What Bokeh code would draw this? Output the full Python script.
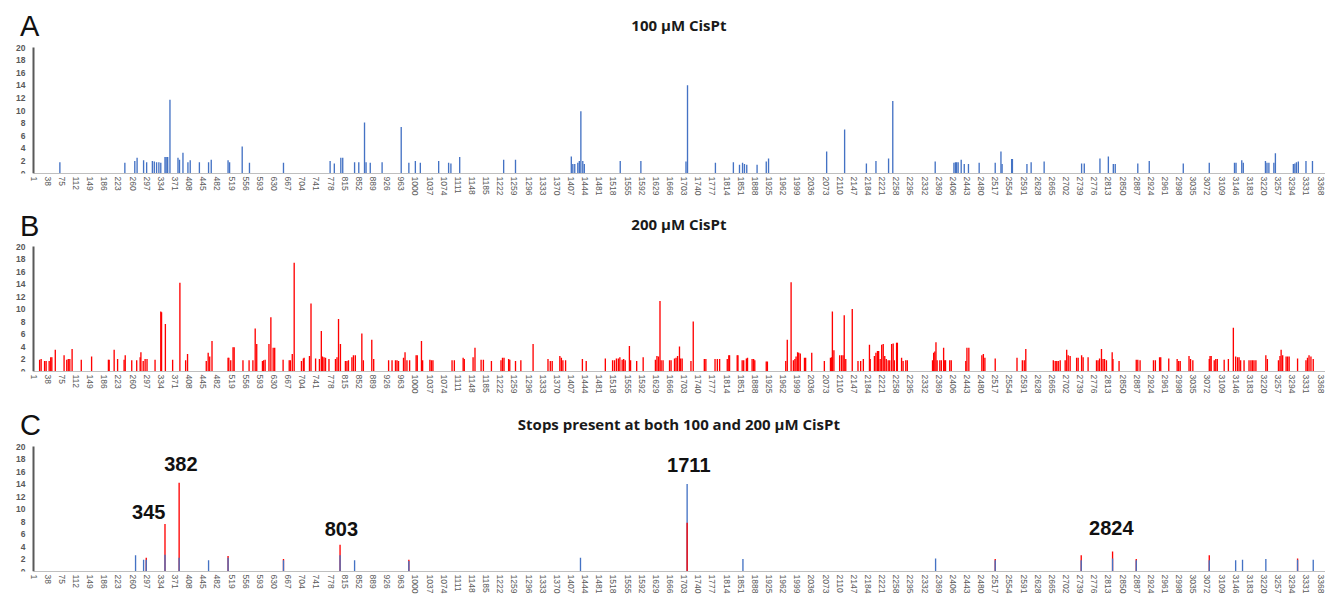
import numpy as np
from bokeh.plotting import figure
from bokeh.layouts import column
from bokeh.models import Range1d, FixedTicker, Label, ColumnDataSource
from bokeh.embed import file_html
from bokeh.resources import INLINE
from bokeh.core.properties import value

# ---------------- data ----------------
x_ticks = list(range(1, 3369, 37))
y_ticks = list(range(0, 21, 2))

a_pos = [70, 240, 266, 272, 289, 297, 312, 317, 323, 329, 334, 345, 348, 352, 358, 379, 383, 392, 405, 411,
         435, 459, 466, 510, 514, 547, 566, 655, 777, 788, 805, 810, 841, 852, 867, 871, 882, 913, 963, 983,
         1000, 1013, 1061, 1087, 1093, 1116, 1231, 1262, 1408, 1412, 1417, 1425, 1429, 1433, 1438, 1442, 1536,
         1590, 1708, 1712, 1785, 1832, 1848, 1856, 1861, 1867, 1894, 1918, 1924, 2076, 2123, 2180, 2205, 2238,
         2249, 2360, 2409, 2413, 2416, 2420, 2428, 2436, 2447, 2475, 2517, 2532, 2535, 2560, 2562, 2600, 2611,
         2645, 2743, 2750, 2791, 2813, 2826, 2831, 2890, 2920, 3009, 3077, 3143, 3147, 3162, 3166, 3224, 3228,
         3233, 3246, 3250, 3297, 3301, 3305, 3310, 3330, 3347]
a_val = [1.8, 1.7, 2.0, 2.5, 2.1, 1.8, 2.0, 1.9, 1.8, 1.8, 1.7, 2.6, 2.6, 2.6, 11.7, 2.5, 2.2, 3.3, 1.8, 2.1,
         1.8, 1.8, 2.2, 2.1, 1.8, 4.3, 1.7, 1.7, 2.0, 1.6, 2.5, 2.5, 1.8, 1.8, 8.1, 1.8, 1.7, 1.8, 7.4, 1.7,
         2.0, 1.7, 2.0, 1.7, 1.6, 2.6, 2.2, 2.2, 2.7, 1.5, 1.5, 1.7, 2.0, 9.9, 2.0, 1.5, 2.0,
         2.0, 1.9, 14.0, 1.7, 1.8, 1.4, 1.7, 1.5, 1.4, 1.4, 1.9, 2.4, 3.5, 7.0, 1.6, 2.0, 2.4,
         11.5, 1.9, 1.7, 1.8, 1.8, 1.8, 2.2, 1.5, 1.5, 1.7, 1.7, 3.5, 1.5, 2.3, 2.3, 1.5, 1.8,
         1.9, 1.6, 1.6, 2.4, 2.7, 1.5, 1.5, 1.6, 2.0, 1.6, 1.7, 1.7, 1.7, 2.1, 1.7, 2.0, 1.7,
         1.7, 1.7, 3.2, 1.5, 1.6, 1.8, 1.9, 2.0, 2.0]

b_pos = [17, 21, 30, 34, 42, 46, 49, 58, 81, 88, 92, 96, 102, 126, 153, 197, 199, 212, 221, 238, 241, 258, 271,
         280, 282, 288, 293, 298, 319, 334, 336, 346, 365, 384, 399, 404, 453, 458, 462, 468, 510, 512, 517, 523,
         526, 549, 565, 575, 581, 585, 600, 603, 607, 617, 622, 628, 632, 654, 670, 673, 678, 683, 702, 707, 709,
         723, 727, 739, 749, 754, 757, 761, 765, 774, 791, 795, 799, 804, 817, 821, 825, 834, 838, 843, 860, 864,
         886, 891, 930, 939, 948, 952, 956, 969, 973, 978, 985, 1002, 1005, 1016, 1019, 1038, 1042, 1046,
         1096, 1102, 1125, 1128, 1151, 1156, 1172, 1178, 1199, 1224, 1228, 1232, 1244, 1247, 1262, 1276, 1308,
         1347, 1353, 1358, 1378, 1382, 1386, 1393, 1437, 1447, 1497, 1516, 1521, 1526, 1531, 1535, 1541, 1545,
         1549, 1560, 1563, 1579, 1596, 1628, 1632, 1636, 1640, 1643, 1648, 1665, 1669, 1678, 1682, 1686, 1691,
         1694, 1698, 1721, 1727, 1756, 1760, 1784, 1790, 1796, 1816, 1820, 1822, 1842, 1844, 1855, 1859, 1866,
         1869, 1881, 1885, 1888, 1918, 1921, 1969, 1973, 1983, 1989, 1993, 1996, 2000, 2003, 2007, 2018, 2021,
         2037, 2070, 2086, 2089, 2091, 2095, 2110, 2115, 2119, 2122, 2126, 2143, 2158, 2165, 2172, 2188, 2190,
         2201, 2205, 2209, 2212, 2216, 2220, 2224, 2228, 2232, 2237, 2241, 2246, 2250, 2253, 2259, 2261, 2272,
         2276, 2283, 2287, 2353, 2356, 2359, 2362, 2365, 2372, 2376, 2382, 2385, 2387, 2398, 2402, 2440, 2443,
         2448, 2482, 2486, 2490, 2517, 2574, 2588, 2593, 2597, 2669, 2674, 2678, 2682, 2687, 2700, 2704, 2708,
         2713, 2730, 2734, 2743, 2747, 2760, 2782, 2786, 2790, 2795, 2799, 2803, 2808, 2823, 2825, 2841, 2886,
         2890, 2896, 2931, 2936, 2947, 2950, 2971, 2993, 2997, 3001, 3024, 3028, 3034, 3077, 3079, 3082, 3090,
         3094, 3098, 3116, 3127, 3140, 3146, 3151, 3155, 3159, 3168, 3181, 3186, 3190, 3194, 3199, 3225, 3229,
         3258, 3262, 3265, 3269, 3278, 3282, 3286, 3308, 3330, 3334, 3338, 3343, 3349]
b_val = [1.9, 2.0, 1.7, 1.7, 1.7, 2.3, 2.3, 3.5, 2.6, 1.9, 2.0, 2.0, 3.6, 1.9, 2.4, 1.9, 1.9, 3.5, 2.0, 1.9, 2.6, 1.8, 1.8,
         2.3, 3.1, 1.7, 2.0, 2.0, 1.9, 9.6, 9.5, 7.6, 1.9, 14.2, 1.8, 2.8, 1.7, 3.0, 2.4, 4.9, 2.2, 2.2, 1.8, 3.9,
         3.9, 1.8, 1.8, 1.8, 6.9, 4.4, 1.7, 1.8, 1.9, 4.4, 8.7, 3.8, 3.8, 1.9, 1.8, 1.8, 2.8, 17.4, 1.7, 2.1, 2.2,
         2.5, 10.9, 2.1, 2.0, 6.5, 2.4, 2.3, 2.2, 2.0, 2.0, 2.3, 8.4, 4.4, 1.7, 1.7, 1.8, 2.3, 2.6, 2.6, 6.1, 1.8,
         5.1, 2.0, 1.8, 1.8, 1.8, 1.8, 1.7, 2.2, 3.1, 1.8, 1.8, 2.6, 2.6, 4.9, 1.8, 1.9, 1.8, 1.8,
         1.8, 1.8, 2.2, 2.0, 2.3, 3.8, 1.9, 1.9, 1.7, 1.8, 2.2, 2.2, 2.0, 1.9, 1.7, 1.8, 4.4,
         2.0, 1.7, 1.7, 2.5, 2.2, 1.8, 1.8, 2.0, 1.7, 2.1, 1.8, 1.8, 2.1, 2.1, 2.3, 1.9, 2.0,
         1.8, 4.1, 1.8, 1.7, 2.3, 1.9, 2.5, 2.4, 11.3, 1.8, 1.8, 1.8, 1.8, 2.1, 2.2, 2.5, 4.0,
         2.1, 2.1, 1.7, 8.0, 2.0, 2.0, 2.0, 2.0, 2.0, 2.0, 2.6, 2.6, 2.6, 2.6, 1.8, 1.8, 2.1,
         2.2, 2.0, 2.0, 1.8, 1.6, 1.6, 1.7, 5.1, 14.3, 1.8, 2.0, 2.4, 3.1, 3.0, 2.9, 2.2, 2.2,
         3.0, 1.7, 2.2, 2.3, 9.6, 3.4, 2.6, 2.6, 2.6, 9.0, 2.0, 10.0, 1.7, 1.7, 2.0, 4.3, 2.0,
         2.5, 3.0, 3.3, 3.3, 2.0, 4.3, 4.4, 2.5, 2.0, 1.8, 1.8, 4.4, 4.5, 1.8, 4.6, 4.6, 2.2,
         1.7, 1.8, 1.8, 1.8, 3.0, 3.2, 4.7, 1.8, 1.8, 1.8, 3.8, 1.8, 1.8, 1.8, 1.8, 1.7, 3.8,
         3.8, 2.6, 2.8, 2.2, 2.1, 2.2, 1.8, 1.8, 3.6, 1.8, 1.7, 1.7, 1.7, 1.8, 1.8, 3.5, 2.6,
         2.5, 2.2, 2.2, 2.6, 2.3, 2.3, 1.8, 1.8, 2.1, 3.6, 2.0, 2.0, 1.8, 3.1, 2.0, 1.7, 1.9,
         1.9, 1.8, 1.8, 1.8, 2.3, 2.3, 2.1, 2.0, 1.7, 1.7, 2.5, 2.0, 1.8, 2.0, 2.5, 2.5, 1.8,
         2.0, 2.0, 1.9, 2.0, 7.0, 2.4, 2.3, 2.3, 1.8, 1.8, 1.8, 1.8, 1.8, 1.8, 1.8, 2.6, 2.0,
         1.8, 2.5, 3.5, 2.6, 2.4, 2.4, 2.4, 2.1, 1.8, 2.2, 2.6, 2.4, 2.0]

c_pos = [268, 289, 296, 345, 382, 459, 510, 655, 803, 841, 983, 1432, 1711, 1857, 2361, 2517, 2742, 2824,
         2886, 3077, 3146, 3164, 3225, 3308, 3349]
c_100 = [2.6, 1.9, 1.9, 2.7, 2.2, 1.8, 2.2, 1.8, 2.6, 1.8, 1.7, 2.2, 14.0, 2.0, 2.1, 1.8, 1.8, 2.1,
         1.8, 1.8, 1.8, 1.9, 2.0, 1.9, 1.9]
c_200 = [0, 0, 2.2, 7.6, 14.2, 0, 2.5, 2.0, 4.3, 0, 1.9, 0, 7.8, 0, 0, 2.0, 2.6, 3.2,
         2.0, 2.6, 0, 0, 0, 2.1, 0]

ann_text = ["345", "382", "803", "1711", "2824"]
ann_x = [302.6, 386.4, 806.3, 1715.4, 2820.7]
ann_y = [9.49, 17.23, 6.83, 17.07, 6.96]

titles = ["100 \u00b5M CisPt", "200 \u00b5M CisPt", "Stops present at both 100 and 200 \u00b5M CisPt"]
letters = ["A", "B", "C"]

# ---------------- style / geometry ----------------
BLUE = "#4472C4"
RED = "#FF0000"
W = 1325
PX_PER_UNIT = 0.38224          # horizontal scale of the reference
FRAME_LEFT = 0
AXIS_PX = 33
X_START = 1 - (AXIS_PX - FRAME_LEFT) / PX_PER_UNIT
X_END = 1 + (W - AXIS_PX) / PX_PER_UNIT
LETTER_X = 1 + (19.5 - AXIS_PX) / PX_PER_UNIT
BAR_W = 3.5


def make_fig(height, bottom, y_end, title, letter, title_y, letter_y):
    p = figure(width=W, height=height, x_range=Range1d(X_START, X_END), y_range=Range1d(0, y_end),
               output_backend="svg", toolbar_location=None,
               min_border_left=FRAME_LEFT, min_border_right=0, min_border_top=0, min_border_bottom=bottom)
    p.grid.visible = False
    p.outline_line_color = None
    p.background_fill_color = "white"
    p.border_fill_color = "white"

    yax = p.yaxis[0]
    yax.fixed_location = 1
    yax.ticker = FixedTicker(ticks=y_ticks)
    yax.bounds = (0, 20)
    yax.axis_line_color = "#595959"
    yax.axis_line_width = 2
    yax.major_tick_line_color = None
    yax.minor_tick_line_color = None
    yax.major_tick_out = 0
    yax.major_tick_in = 0
    yax.major_label_standoff = 8
    yax.major_label_text_font = "Liberation Sans"
    yax.major_label_text_font_size = "8.5px"
    yax.major_label_text_font_style = "bold"
    yax.major_label_text_color = "#595959"

    xax = p.xaxis[0]
    xax.ticker = FixedTicker(ticks=x_ticks)
    xax.bounds = (1, X_END)
    xax.major_label_orientation = "vertical"
    xax.axis_line_color = "#bfbfbf"
    xax.axis_line_width = 1
    xax.major_tick_line_color = None
    xax.minor_tick_line_color = None
    xax.major_tick_out = 0
    xax.major_tick_in = 0
    xax.major_label_standoff = 3
    xax.major_label_text_font = "Liberation Sans"
    xax.major_label_text_font_size = "8.5px"
    xax.major_label_text_color = "#595959"

    p.add_layout(Label(x=(1 + 3368) / 2 + 5, y=title_y, text=title, text_align="center",
                       text_baseline="middle", text_font="Open Sans", text_font_style="bold",
                       text_font_size="15px", text_color="#1a1a1a"))
    p.add_layout(Label(x=LETTER_X, y=letter_y, text=letter, text_align="left", text_baseline="middle",
                       text_font="Liberation Sans", text_font_size="29px", text_color="#111111"))
    return p


pA = make_fig(200, 27, 173 / 6.3, titles[0], letters[0], 23.62, 23.41)
pA.vbar(x=a_pos, top=a_val, bottom=0, width=BAR_W, color=BLUE, line_width=0)

pB = make_fig(200, 29, 171 / 6.25, titles[1], letters[1], 23.68, 23.36)
pB.vbar(x=b_pos, top=b_val, bottom=0, width=BAR_W, color=RED, line_width=0)

pC = make_fig(197, 26, 171 / 6.25, titles[2], letters[2], 23.6, 23.52)
blue = np.array(c_100)
red = np.array(c_200)
back_top = np.maximum(blue, red)
back_col = np.where(red > blue, RED, BLUE)
front_top = np.minimum(blue, red)
front_col = np.where(red > blue, BLUE, RED)
pC.vbar(source=ColumnDataSource(dict(x=c_pos, top=back_top, c=back_col)),
        x="x", top="top", bottom=0, width=BAR_W, fill_color="c", line_color="c", line_width=0)
pC.vbar(source=ColumnDataSource(dict(x=c_pos, top=front_top, c=front_col)),
        x="x", top="top", bottom=0, width=BAR_W, fill_color="c", line_color="c", line_width=0)
pC.text(x=ann_x, y=ann_y, text=ann_text, text_align="center", text_baseline="middle",
        text_font=value("Liberation Sans"), text_font_style="bold", text_font_size="20px",
        text_color="#111111")

layout = column(pA, pB, pC, spacing=0)
open("out.html", "w").write(file_html(layout, INLINE))
